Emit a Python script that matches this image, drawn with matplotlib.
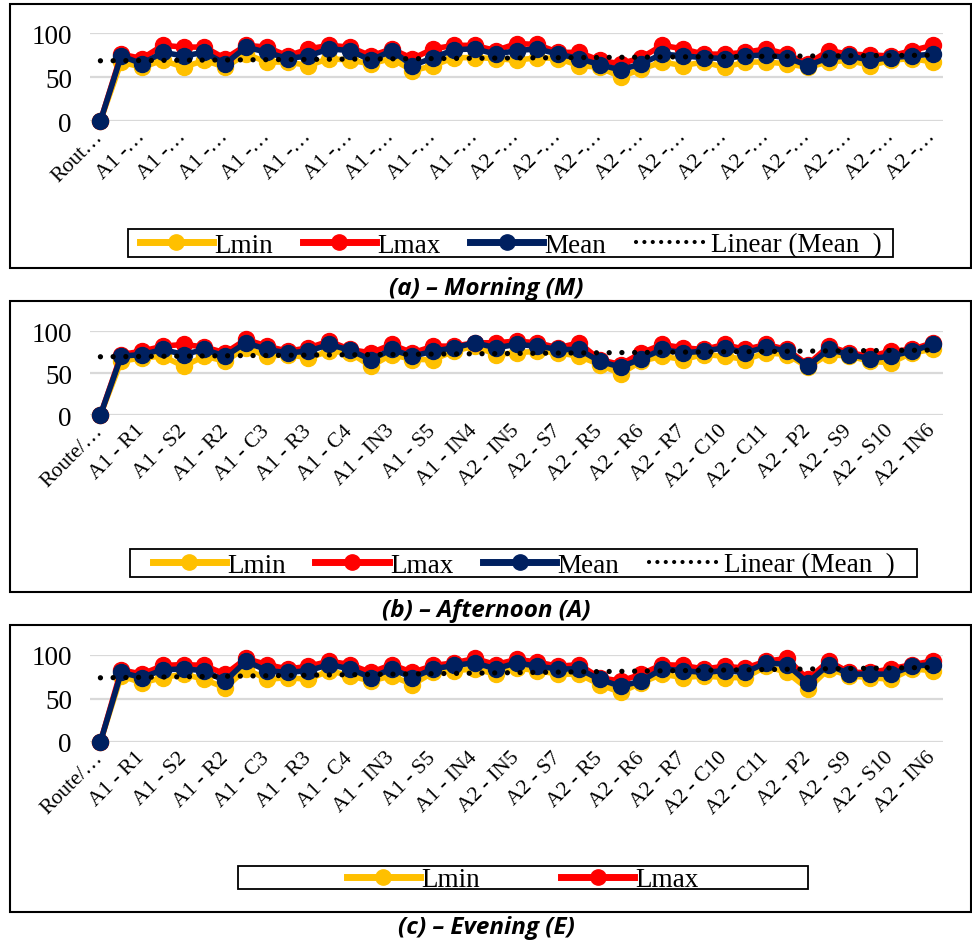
import numpy as np
import matplotlib.pyplot as plt
from matplotlib.patches import Rectangle
from matplotlib.lines import Line2D

categories = ["Route/…", "A1 - S1", "A1 - R1", "A1 - C1", "A1 - S2", "A1 - IN1", "A1 - R2",
              "A1 - C2", "A1 - C3", "A1 - S3", "A1 - R3", "A1 - IN2", "A1 - C4", "A1 - S4",
              "A1 - IN3", "A1 - R4", "A1 - S5", "A1 - C5", "A1 - IN4", "A2 - S6", "A2 - IN5",
              "A2 - C6", "A2 - S7", "A2 - C7", "A2 - R5", "A2 - C8", "A2 - R6", "A2 - S8",
              "A2 - R7", "A2 - C9", "A2 - C10", "A2 - P1", "A2 - C11", "A2 - R8", "A2 - P2",
              "A2 - C12", "A2 - S9", "A2 - R9", "A2 - S10", "A2 - C13", "A2 - IN6"]

# (a) morning
m_lmin = [0, 67, 61, 69, 61, 69, 61, 76, 67, 67, 63, 71, 69, 65, 71, 57, 63, 72, 72, 71, 69,
          72, 71, 63, 61, 50, 59, 67, 63, 67, 61, 67, 67, 65, 61, 67, 69, 63, 69, 71, 67]
m_lmax = [0, 76, 71, 86, 84, 84, 71, 86, 84, 74, 82, 86, 84, 74, 82, 71, 82, 86, 86, 80, 88,
          87, 78, 78, 69, 65, 72, 86, 82, 76, 76, 78, 82, 76, 65, 80, 76, 75, 74, 80, 86]
m_mean = [0, 74, 65, 78, 74, 78, 65, 84, 78, 71, 74, 82, 80, 69, 80, 63, 72, 81, 82, 76, 80,
          82, 76, 71, 64, 58, 65, 76, 74, 72, 71, 74, 75, 72, 63, 72, 74, 69, 72, 74, 76]

# (b) afternoon
a_lmin = [0, 64, 68, 70, 58, 70, 64, 80, 70, 72, 68, 76, 74, 58, 72, 66, 66, 76, 82, 72, 74,
          76, 74, 70, 60, 49, 64, 70, 66, 72, 70, 66, 74, 72, 57, 72, 70, 64, 62, 74, 78]
a_lmax = [0, 72, 76, 82, 84, 81, 74, 90, 82, 76, 80, 88, 78, 74, 84, 74, 82, 82, 86, 86, 88,
          86, 80, 86, 66, 60, 74, 84, 80, 78, 84, 78, 84, 78, 60, 82, 74, 70, 76, 78, 86]
a_mean = [0, 70, 72, 78, 72, 78, 70, 86, 78, 74, 76, 84, 77, 66, 78, 70, 76, 80, 86, 80, 84,
          82, 78, 78, 64, 57, 67, 78, 74, 76, 80, 74, 81, 76, 58, 78, 72, 67, 70, 76, 84]

# (c) evening
e_lmin = [0, 76, 68, 74, 78, 72, 62, 84, 72, 74, 72, 82, 76, 70, 76, 66, 80, 82, 84, 78, 85,
          82, 78, 78, 66, 57, 68, 78, 74, 76, 74, 74, 87, 80, 61, 84, 76, 74, 72, 84, 82]
e_lmax = [0, 83, 78, 88, 89, 88, 78, 96, 89, 84, 87, 93, 89, 80, 89, 80, 88, 91, 96, 89, 95,
          92, 87, 89, 74, 70, 78, 89, 88, 84, 87, 85, 93, 96, 72, 93, 80, 80, 84, 89, 93]
e_mean = [0, 80, 74, 83, 84, 82, 70, 93, 82, 80, 82, 89, 84, 74, 84, 74, 84, 88, 91, 84, 91,
          87, 84, 84, 72, 64, 70, 84, 82, 80, 82, 80, 91, 89, 68, 89, 78, 78, 78, 87, 89]

series_names = ["Lmin", "Lmax", "Mean", "Linear (Mean  )"]
colors = ["#FFC000", "#FF0000", "#002060"]

W, H = 972, 945
fig = plt.figure(figsize=(W / 100, H / 100), dpi=100)
serif = "Liberation Serif"


def fy(py):
    return 1 - py / H


def frame(x0, y0, x1, y1, lw=1.5):
    fig.patches.append(Rectangle((x0 / W, fy(y1)), (x1 - x0) / W, (y1 - y0) / H,
                                 transform=fig.transFigure, fill=False, ec="black", lw=lw))


def panel(box, plot, lmin, lmax, mean, labels, leg_box, n_leg, title, title_y):
    frame(*box)
    x0, ytop, x1, ybot = plot
    ax = fig.add_axes([x0 / W, fy(ybot), (x1 - x0) / W, (ybot - ytop) / H])
    x = np.arange(len(categories))
    for vals, c in zip([lmin, lmax, mean], colors):
        ax.plot(x, vals, color=c, lw=4, marker="o", ms=11.5, clip_on=False, zorder=3)
    # linear trend of the mean, as in the spreadsheet
    k, b = np.polyfit(x, mean, 1)
    ax.plot(x, k * x + b, color="black", lw=3.8, ls=(0, (0.01, 2.4)),
            dash_capstyle="round", zorder=4)
    ax.set_xlim(-0.5, len(categories) - 0.5)
    ax.set_ylim(0, 100)
    ax.set_yticks([0, 50, 100])
    ax.grid(axis="y", color="#D9D9D9", lw=1.6)
    ax.set_axisbelow(True)
    for s in ax.spines.values():
        s.set_visible(False)
    ax.tick_params(length=0)
    ax.tick_params(axis="y", pad=13, labelsize=19.5)
    ax.set_xticks(x[::2])
    ax.set_xticklabels(labels[::2], rotation=45, ha="right", va="center",
                       rotation_mode="anchor", fontsize=15.5)
    ax.tick_params(axis="x", pad=9)
    for t in ax.get_xticklabels() + ax.get_yticklabels():
        t.set_fontfamily(serif)

    lx0, ly0, lx1, ly1 = leg_box
    frame(lx0, ly0, lx1, ly1, lw=1.3)
    handles = [Line2D([], [], color=c, lw=5, marker="o", ms=11) for c in colors]
    handles.append(Line2D([], [], color="black", lw=3, ls=(0, (0.01, 2.0)),
                          dash_capstyle="round"))
    fig.legend(handles[:n_leg], series_names[:n_leg], loc="center",
               bbox_to_anchor=((lx0 + lx1) / 2 / W, fy((ly0 + ly1) / 2 + 2)),
               ncol=n_leg, frameon=False, prop={"family": serif, "size": 19.5},
               handlelength=2.7, handletextpad=0.05,
               columnspacing=1.1 if n_leg > 2 else 3.0)
    fig.text(0.5, fy(title_y), title, ha="center", va="center", fontsize=17.5,
             fontweight="bold", fontstyle="italic", family="Open Sans")


panel((10, 5, 971, 269), (90, 34, 943, 122), m_lmin, m_lmax, m_mean,
      [c[:4] + "…" for c in categories], (128, 230, 893, 258), 4,
      "(a) – Morning (M)", 289)
panel((10, 302, 971, 593), (90, 332, 943, 416), a_lmin, a_lmax, a_mean,
      categories, (130, 550, 917, 578), 4, "(b) – Afternoon (A)", 611)
panel((10, 626, 971, 913), (90, 656, 943, 743), e_lmin, e_lmax, e_mean,
      categories, (238, 867, 808, 890), 2, "(c) – Evening (E)", 928)

fig.savefig("out.png", dpi=100)
